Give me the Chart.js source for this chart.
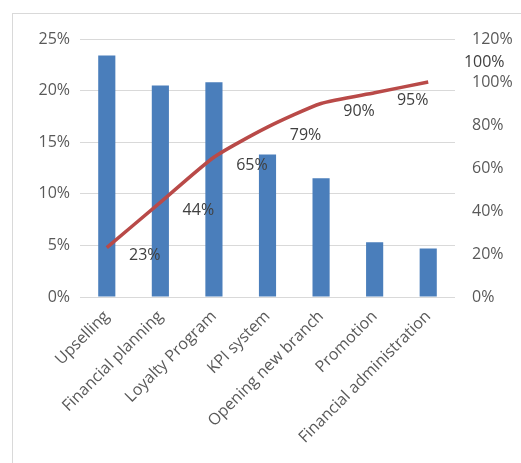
<!DOCTYPE html>
<html>
<head>
<meta charset="utf-8">
<script src="https://cdn.jsdelivr.net/npm/chart.js@4.4.0/dist/chart.umd.min.js"></script>
<style>
  html, body { margin: 0; padding: 0; background: #fff; }
  #wrap { position: relative; width: 521px; height: 463px; }
  #frame { position: absolute; left: 12px; top: 13px; right: 0; bottom: 0;
           border-left: 1px solid #d9d9d9; border-top: 1px solid #d9d9d9; pointer-events: none; }
</style>
</head>
<body>
<div id="wrap">
  <canvas id="chart" width="521" height="463"></canvas>
  <div id="frame"></div>
</div>
<script>
// Categories and values
const categories = ['Upselling', 'Financial planning', 'Loyalty Program', 'KPI system',
  'Opening new branch', 'Promotion', 'Financial administration'];
const shares = [23.4, 20.5, 20.8, 13.8, 11.5, 5.3, 4.7];       // bars, left axis (%)
const cumulative = [23, 44, 65, 79, 90, 95, 100];                // line, right axis (%)
const cumulativeLabels = ['23%', '44%', '65%', '79%', '90%', '95%', '100%'];

const textColor = '#595959';

// Draws the percent labels next to the cumulative line
const lineLabels = {
  id: 'lineLabels',
  afterDatasetsDraw(chart) {
    const meta = chart.getDatasetMeta(0);
    const ctx = chart.ctx;
    ctx.save();
    ctx.font = '16px "Open Sans"';
    ctx.fillStyle = '#404040';
    ctx.textAlign = 'center';
    ctx.textBaseline = 'middle';
    const last = meta.data.length - 1;
    meta.data.forEach((pt, i) => {
      const dx = i === last ? 56 : 38;
      const dy = i === last ? -20 : 8;
      ctx.fillText(cumulativeLabels[i], pt.x + dx, pt.y + dy);
    });
    ctx.restore();
  }
};

new Chart(document.getElementById('chart'), {
  data: {
    labels: categories,
    datasets: [
      {
        type: 'line',
        data: cumulative,
        yAxisID: 'y2',
        borderColor: '#b94a48',
        borderWidth: 3.5,
        pointRadius: 0,
        tension: 0.2,
        order: 0
      },
      {
        type: 'bar',
        data: shares,
        yAxisID: 'y',
        backgroundColor: '#4a7ebb',
        barPercentage: 0.64,
        categoryPercentage: 0.5,
        order: 1
      }
    ]
  },
  options: {
    responsive: false,
    animation: false,
    layout: { padding: { top: 39, left: 0, right: 0, bottom: 0 } },
    plugins: { legend: { display: false }, tooltip: { enabled: false } },
    scales: {
      x: {
        grid: { display: false },
        border: { display: false },
        ticks: { color: textColor, font: { family: 'Open Sans', size: 16 },
                 minRotation: 45, maxRotation: 45, padding: 2 },
        afterFit(scale) { scale.height = 166; }
      },
      y: {
        position: 'left',
        min: 0, max: 25,
        border: { display: false },
        grid: { color: '#d9d9d9', drawTicks: false },
        ticks: { stepSize: 5, color: textColor, font: { family: 'Open Sans', size: 16 }, padding: 10,
                 callback: v => v + '%' },
        afterFit(scale) { scale.width = 80; }
      },
      y2: {
        position: 'right',
        min: 0, max: 120,
        border: { display: false },
        grid: { display: false, drawTicks: false },
        ticks: { stepSize: 20, color: textColor, font: { family: 'Open Sans', size: 16 }, padding: 17,
                 callback: v => v + '%' },
        afterFit(scale) { scale.width = 66; }
      }
    }
  },
  plugins: [lineLabels]
});
</script>
</body>
</html>
